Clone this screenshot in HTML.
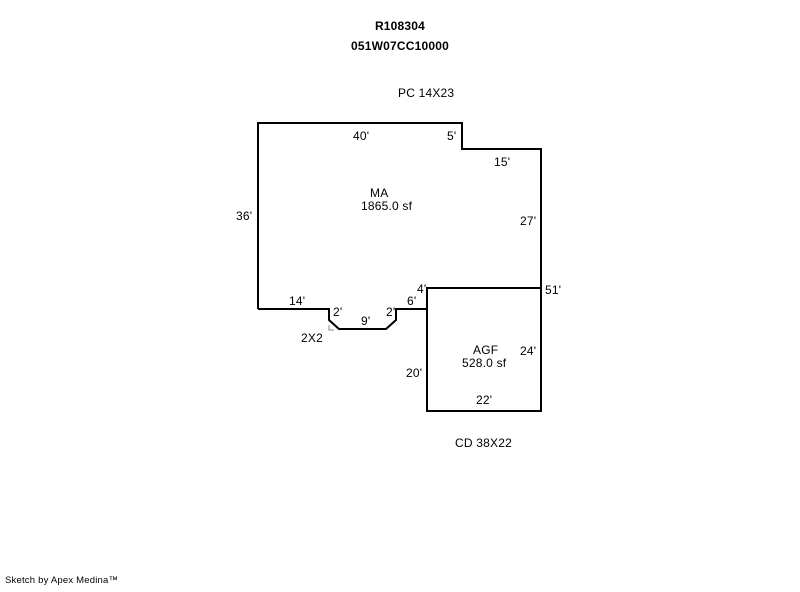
<!DOCTYPE html>
<html><head><style>
body{margin:0;background:#fff}
svg text{font-family:"Liberation Sans",Arial,sans-serif;font-size:12px;fill:#000;letter-spacing:0.2px}
</style></head><body>
<svg width="800" height="587" xmlns="http://www.w3.org/2000/svg">
<g fill="none" stroke="#000" stroke-width="2">
<polyline points="258,309 258,123 462,123 462,149 541,149 541,411 427,411 427,288 541,288"/>
<polyline points="258,309 329,309 329,320 339,329 386,329 396,320 396,309 427,309"/>
</g>
<polyline points="329,325 329,330 334,330" fill="none" stroke="#888" stroke-width="1"/>
<text x="400" y="30" text-anchor="middle" font-weight="bold">R108304</text>
<text x="400" y="50" text-anchor="middle" font-weight="bold">051W07CC10000</text>
<text x="398" y="97">PC 14X23</text>
<text x="353" y="140">40'</text>
<text x="447" y="140">5'</text>
<text x="494" y="166">15'</text>
<text x="370" y="197">MA</text>
<text x="361" y="210">1865.0 sf</text>
<text x="236" y="220">36'</text>
<text x="520" y="225">27'</text>
<text x="417" y="293">4'</text>
<text x="545" y="294">51'</text>
<text x="289" y="305">14'</text>
<text x="333" y="316">2'</text>
<text x="386" y="316">2'</text>
<text x="407" y="305">6'</text>
<text x="361" y="325">9'</text>
<text x="301" y="342">2X2</text>
<text x="473" y="354">AGF</text>
<text x="462" y="367">528.0 sf</text>
<text x="520" y="355">24'</text>
<text x="406" y="377">20'</text>
<text x="476" y="404">22'</text>
<text x="455" y="447">CD 38X22</text>
<text x="5" y="583" style="font-size:9.5px">Sketch by Apex Medina™</text>
</svg>
</body></html>
